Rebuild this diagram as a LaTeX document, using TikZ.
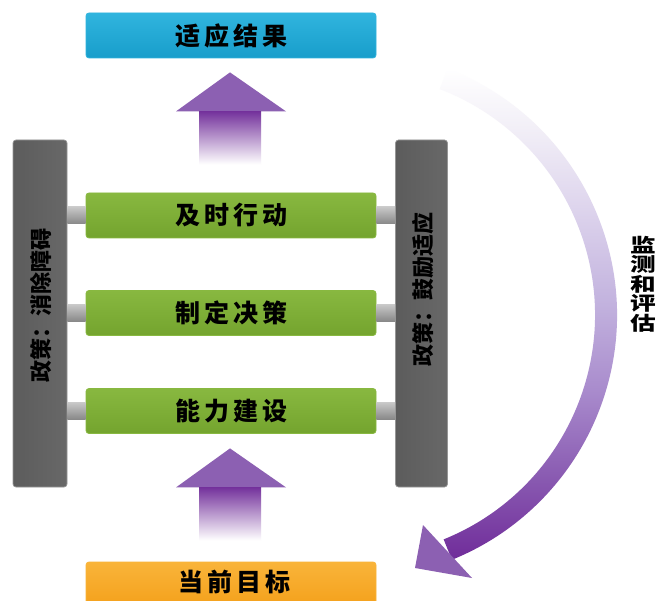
\documentclass[tikz,border=0pt]{standalone}
\usepackage{fontspec}
\newfontfamily\cjk{Noto Sans CJK SC}
\usetikzlibrary{calc}
\definecolor{topblue}{RGB}{24,158,203}
\definecolor{topblueL}{RGB}{48,180,222}
\definecolor{grn}{RGB}{116,164,46}
\definecolor{grnL}{RGB}{136,184,64}
\definecolor{org}{RGB}{244,160,26}
\definecolor{orgL}{RGB}{249,180,58}
\definecolor{pil}{RGB}{92,92,92}
\definecolor{pilL}{RGB}{104,104,104}
\definecolor{pilEdge}{RGB}{150,150,150}
\definecolor{purD}{RGB}{116,50,156}
\definecolor{purM}{RGB}{160,122,196}
\definecolor{purH}{RGB}{140,96,178}
\definecolor{arcA}{RGB}{112,44,154}
\definecolor{arcB}{RGB}{136,88,176}
\definecolor{arcC}{RGB}{168,138,204}
\definecolor{arcD}{RGB}{194,178,222}
\definecolor{arcE}{RGB}{222,213,237}
\definecolor{arcF}{RGB}{242,239,247}
\definecolor{cylT}{RGB}{200,200,200}
\definecolor{cylM}{RGB}{238,238,238}
\definecolor{cylB}{RGB}{135,135,135}
\pgfdeclareverticalshading{arcshade}{100bp}{color(0bp)=(arcA); color(25bp)=(arcA); color(33bp)=(arcB); color(42bp)=(arcC); color(51bp)=(arcD); color(61bp)=(arcE); color(69bp)=(arcF); color(75bp)=(white); color(100bp)=(white)}
\newcommand\chgap{\hspace{4pt}}
\newcommand\blkarrow[1]{%
  \fill[purH] (#1) -- ++(56,39) -- ++(-110,0) -- cycle;
  \shade[top color=purD, middle color=purM, bottom color=white]
    ($(#1)+(-31,39)$) rectangle ($(#1)+(31,92)$);}
\begin{document}
\begin{tikzpicture}[x=1pt,y=-1pt,
  boxbase/.style={rectangle, rounded corners=3pt, minimum width=290pt, minimum height=45pt,
     inner sep=0pt, font=\cjk\bfseries\fontsize{25}{27}\selectfont, text=black},
  bluebox/.style={boxbase, top color=topblueL, bottom color=topblue, draw=topblueL, line width=0.8pt},
  greenbox/.style={boxbase, top color=grnL, bottom color=grn, draw=grnL, line width=0.8pt},
  orangebox/.style={boxbase, top color=orgL, bottom color=org, draw=orgL, line width=0.8pt},
  pillar/.style={rectangle, rounded corners=3pt, minimum height=347pt, inner sep=0pt,
     left color=pil, right color=pilL, draw=pilEdge, line width=0.7pt},
  pilltext/.style={rotate=90, inner sep=0pt, font=\cjk\bfseries\fontsize{22}{24}\selectfont, text=black},
  cyl/.style={top color=cylT, middle color=cylM, bottom color=cylB},
  boxtext/.style={inner sep=0pt, font=\cjk\bfseries\fontsize{25}{27}\selectfont, text=black}
]
\clip (0,0) rectangle (658,601);
\fill[white] (0,0) rectangle (658,601);

% curved monitoring arrow
\coordinate (C) at (353,315);
\shade[shading=arcshade]
  ($(C)+(-69:264)$) arc[start angle=-69, end angle=68, radius=264]
  -- ($(C)+(68:242)$) arc[start angle=68, end angle=-69, radius=242] -- cycle;
\fill[purH] (423,525) -- (415,568) -- (472,578) -- cycle;

% top result box
\node[bluebox] (res) at (231,35.5) {适\chgap 应\chgap 结\chgap 果};

% pillars
\node[pillar, minimum width=54pt] (lp) at (40,313.5) {};
\node[pillar, minimum width=52pt] (rp) at (421.5,313.5) {};
\node[pilltext] (lpt) at (41,305) {政策：消除障碍};
\node[pilltext] (rpt) at (423,289) {政策：鼓励适应};

% rungs
\node[greenbox] (a1) at (231,215.5) {及\chgap 时\chgap 行\chgap 动};
\node[greenbox] (a2) at (231,313) {制\chgap 定\chgap 决\chgap 策};
\node[greenbox] (a3) at (231,411) {能\chgap 力\chgap 建\chgap 设};

% connectors between pillars and rungs
\foreach \b in {a1,a2,a3}{
  \shade[cyl] ($(lp.east |- \b.center)+(0,-8.5)$) rectangle ($(\b.west)+(0,8.5)$);
  \shade[cyl] ($(\b.east)+(0,-8.5)$) rectangle ($(rp.west |- \b.center)+(0,8.5)$);
}

% bottom goal box
\node[orangebox, minimum height=46pt] (cur) at (231,585) {};
\node[boxtext] (curt) at (234,582) {当\chgap 前\chgap 目\chgap 标};

% block arrows
\blkarrow{$(res.south)+(-1,14)$}
\blkarrow{$(a3.south)+(-1,14.5)$}

% side label
\node[inner sep=0pt, align=center, xscale=1.35,
      font=\cjk\bfseries\fontsize{19}{19.5}\selectfont] (mon) at (643,284) {监\\测\\和\\评\\估};
\end{tikzpicture}
\end{document}
